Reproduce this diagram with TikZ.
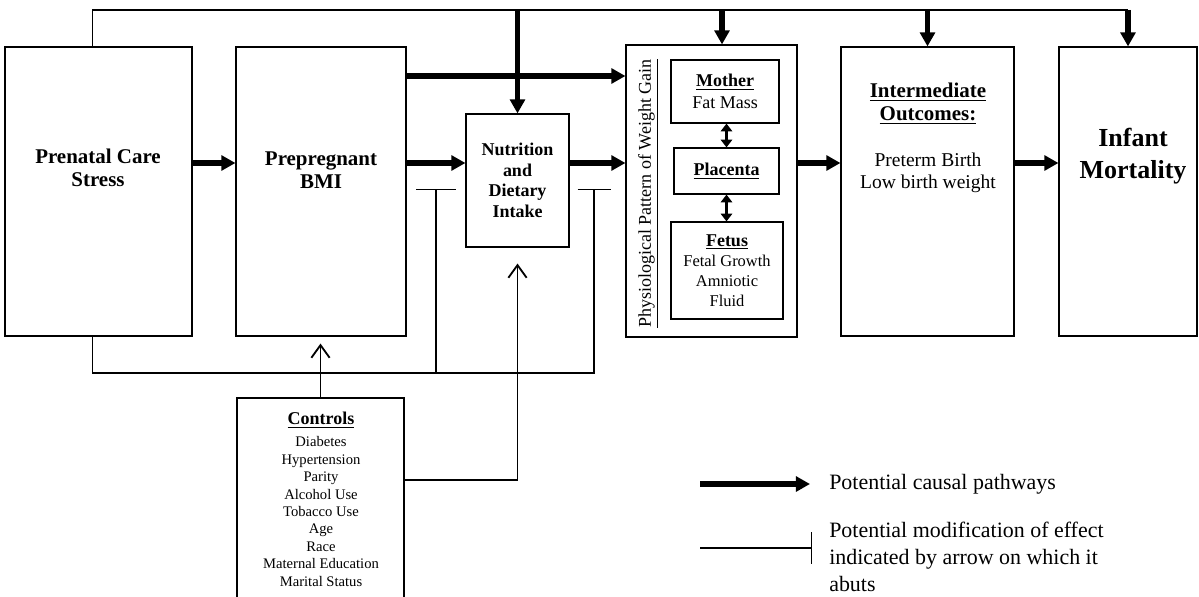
\documentclass[tikz,border=0pt]{standalone}
\usepackage{fontspec}
\setmainfont{Liberation Serif}
\usepackage{tikz}
\usetikzlibrary{arrows.meta,positioning}

\newcommand{\fbig}{\fontsize{14.9pt}{16.4pt}\selectfont\bfseries}
\newcommand{\fnutri}{\fontsize{12.8pt}{14.7pt}\selectfont\bfseries}
\newcommand{\fsub}{\fontsize{12.8pt}{15.6pt}\selectfont}
\newcommand{\ffetus}{\fontsize{11.7pt}{14.2pt}\selectfont}
\newcommand{\finter}{\fontsize{13.9pt}{15.6pt}\selectfont}
\newcommand{\finfant}{\fontsize{18.5pt}{22.8pt}\selectfont\bfseries}
\newcommand{\fctrl}{\fontsize{10.4pt}{12.4pt}\selectfont}
\newcommand{\flegend}{\fontsize{15.6pt}{19.2pt}\selectfont}

\begin{document}
\begin{tikzpicture}[
  box/.style={draw, line width=0.8pt, inner sep=2pt, align=center},
  txt/.style={inner sep=0pt, align=center},
  causal/.style={line width=3.8pt, -{Triangle[length=10pt,width=10.5pt]}},
  twoway/.style={line width=2.4pt, {Triangle[length=5.5pt,width=8pt]}-{Triangle[length=5.5pt,width=8pt]}},
  modline/.style={line width=0.8pt},
  ctrlline/.style={line width=1.3pt, -{Straight Barb[length=9pt,width=13pt,line width=1.3pt]}},
  legendtext/.style={inner sep=0pt, font=\flegend}
]
\useasboundingbox (0,0) rectangle (29.975,-14.9);
\clip (0,0) rectangle (29.975,-14.9);

% Main row
\node[box, minimum width=4.675cm, minimum height=7.225cm] (prenatal) at (2.4625,-4.7875) {};
\node[box, minimum width=4.25cm, minimum height=7.225cm] (bmi) at (8.025,-4.7875) {};
\node[box, minimum width=2.575cm, minimum height=3.325cm, font=\fnutri] (nutri) at (12.9375,-4.5125) {Nutrition\\and\\Dietary\\Intake};
\node[box, minimum width=4.275cm, minimum height=7.3cm] (phys) at (17.7875,-4.775) {};
\node[box, minimum width=4.325cm, minimum height=7.225cm] (inter) at (23.1875,-4.7875) {};
\node[box, minimum width=3.45cm, minimum height=7.225cm] (infant) at (28.2,-4.7875) {};

% Inside the weight gain box
\node[box, minimum width=2.7cm, minimum height=1.575cm, font=\fsub] (mother) at (18.125,-2.2875) {\textbf{\underline{Mother}}\\Fat Mass};
\node[box, minimum width=2.625cm, minimum height=1.15cm, font=\fsub] (placenta) at (18.1625,-4.275) {\textbf{\underline{Placenta}}};
\node[box, minimum width=2.8cm, minimum height=2.425cm, font=\ffetus] (fetus) at (18.175,-6.7625) {{\fsub\textbf{\underline{Fetus}}}\\Fetal Growth\\Amniotic\\Fluid};
\node[txt, rotate=90, font=\fsub] (physlabel) at (16.2,-4.8375) {\underline{Physiological Pattern of Weight Gain}};

% Controls
\node[box, minimum width=4.175cm, minimum height=5.55cm] (controls) at (8.0125,-12.725) {};
\node[txt, font=\fsub\bfseries] (ctrltitle) at (8.025,-10.5) {\underline{Controls}};
\node[txt, font=\fctrl] (ctrllist) at (8.025,-12.7875) {Diabetes\\Hypertension\\Parity\\Alcohol Use\\Tobacco Use\\Age\\Race\\Maternal Education\\Marital Status};

% Box texts
\node[txt, font=\fbig] (prenataltext) at (2.45,-4.2) {Prenatal Care\\Stress};
\node[txt, font=\fbig] (bmitext) at (8.025,-4.25) {Prepregnant\\BMI};
\node[txt, font=\fbig] (interhead) at (23.2,-2.5875) {\underline{Intermediate}\\\underline{Outcomes:}};
\node[txt, font=\finter] (interbody) at (23.2,-4.325) {Preterm Birth\\Low birth weight};
\node[txt, font=\finfant] (infanttext) at (28.325,-3.9) {Infant\\Mortality};

% Causal arrows
\coordinate (row) at (0,-4.075);
\coordinate (highrow) at (0,-1.9);
\coordinate (topline) at (0,-0.25);
\coordinate (physin) at ([xshift=0.2625cm]phys.north);
\draw[causal] (prenatal.east |- row) -- (bmi.west |- row);
\draw[causal] (bmi.east |- row) -- (nutri.west |- row);
\draw[causal] (nutri.east |- row) -- (phys.west |- row);
\draw[causal] (phys.east |- row) -- (inter.west |- row);
\draw[causal] (inter.east |- row) -- (infant.west |- row);
\draw[causal] (bmi.east |- highrow) -- (phys.west |- highrow);

% Line over the top
\draw[modline] ([xshift=-0.15cm]prenatal.north) |- (topline -| infant.north);
\draw[causal] (topline -| nutri.north) -- (nutri.north);
\draw[causal] (topline -| physin) -- (physin);
\draw[causal] (topline -| inter.north) -- (inter.north);
\draw[causal] (topline -| infant.north) -- (infant.north);

\draw[twoway] (placenta.north |- mother.south) -- (placenta.north);
\draw[twoway] (placenta.south) -- (placenta.south |- fetus.north);

% Modification lines
\coordinate (bus) at (0,-9.325);
\coordinate (modA) at (10.9,-4.725);
\coordinate (modB) at (14.85,-4.725);
\draw[modline, -{Bar[width=0.825cm,line width=0.8pt]}] ([xshift=-0.15cm]prenatal.south) |- (bus -| modB) -- (modB);
\draw[modline, -{Bar[width=1cm,line width=0.8pt]}] (bus -| modA) -- (modA);

% Controls arrows
\coordinate (ctrlrow) at (0,-12);
\draw[ctrlline, shorten >=0.175cm] (controls.north) -- (controls.north |- bmi.south);
\draw[ctrlline, shorten >=0.4cm] (controls.east |- ctrlrow) -| (nutri.south);

% Legend
\coordinate (legA) at (17.5,-12.1);
\coordinate (legB) at (20.25,-12.1);
\coordinate (legC) at (17.5,-13.7);
\coordinate (legD) at (20.3,-13.7);
\draw[causal] (legA) -- (legB);
\draw[modline, -{Bar[width=0.8cm,line width=0.8pt]}] (legC) -- (legD);
\node[legendtext, anchor=west] (legcausal) at (20.725,-12.1) {Potential causal pathways};
\node[legendtext, anchor=west, align=left] (legmod) at (20.725,-13.925) {Potential modification of effect\\indicated by arrow on which it\\abuts};

\end{tikzpicture}
\end{document}
